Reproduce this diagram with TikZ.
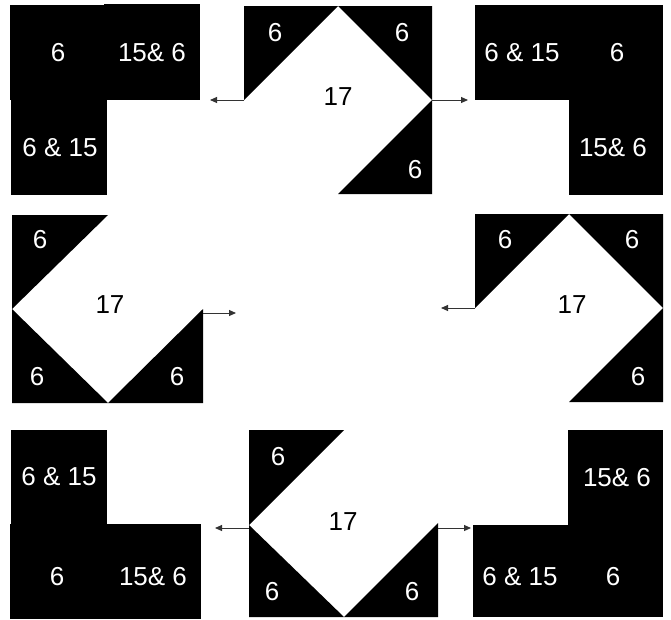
\documentclass[tikz,border=0pt]{standalone}
\usepackage{fontspec}
\setmainfont{Liberation Sans}
\usetikzlibrary{arrows.meta}
\tikzset{
  blk/.style={fill=black,draw=none},
  lblw/.style={text=white,font=\fontsize{26}{30}\selectfont,inner sep=0pt},
  lblb/.style={text=black,font=\fontsize{26}{30}\selectfont,inner sep=0pt},
  arr/.style={draw=black!80,line width=1pt,-{Triangle[length=7pt,width=6pt]}}
}
\begin{document}
\begin{tikzpicture}[x=1pt,y=-1pt]
\useasboundingbox[fill=white] (0,0) rectangle (671,619);
% ---------- top-left L
\fill[blk] (10,5) rectangle (105,100);
\fill[blk] (104,4) rectangle (200,100);
\fill[blk] (11,99) rectangle (107,195);
\node[lblw] (tl1) at (58,53) {6};
\node[lblw] (tl2) at (152,53) {15\& 6};
\node[lblw] (tl3) at (60,148) {6 \& 15};
% ---------- top-center
\fill[blk] (244,6) -- (338,6) -- (244,100) -- cycle;
\fill[blk] (338,6) -- (432,6) -- (432,100) -- cycle;
\fill[blk] (432,100) -- (432,194) -- (338,194) -- cycle;
\node[lblw] (tc1) at (275,33) {6};
\node[lblw] (tc2) at (402,33) {6};
\node[lblb] (tc3) at (338,97) {17};
\node[lblw] (tc4) at (415,170) {6};
\coordinate (tcL) at (244,100);
\coordinate (tcLe) at (210,100);
\coordinate (tcR) at (432,100);
\coordinate (tcRe) at (468,100);
\draw[arr] (tcL) -- (tcLe);
\draw[arr] (tcR) -- (tcRe);
% ---------- top-right L
\fill[blk] (475,5) rectangle (663,100);
\fill[blk] (569,99) rectangle (663,195);
\node[lblw] (tr1) at (522,53) {6 \& 15};
\node[lblw] (tr2) at (617,53) {6};
\node[lblw] (tr3) at (613,148) {15\& 6};
% ---------- middle-left
\fill[blk] (12,215) -- (108,215) -- (12,309) -- cycle;
\fill[blk] (12,309) -- (12,403) -- (108,403) -- cycle;
\fill[blk] (108,403) -- (203,403) -- (203,309) -- cycle;
\node[lblw] (ml1) at (40,240) {6};
\node[lblb] (ml2) at (110,305) {17};
\node[lblw] (ml3) at (37,377) {6};
\node[lblw] (ml4) at (177,377) {6};
\coordinate (mlR) at (203,313);
\coordinate (mlRe) at (236,313);
\draw[arr] (mlR) -- (mlRe);
% ---------- middle-right
\fill[blk] (475,214) -- (569,214) -- (475,308) -- cycle;
\fill[blk] (569,214) -- (663,214) -- (663,308) -- cycle;
\fill[blk] (663,308) -- (663,402) -- (569,402) -- cycle;
\node[lblw] (mr1) at (505,240) {6};
\node[lblw] (mr2) at (632,240) {6};
\node[lblb] (mr3) at (572,305) {17};
\node[lblw] (mr4) at (638,377) {6};
\coordinate (mrL) at (475,308);
\coordinate (mrLe) at (441,308);
\draw[arr] (mrL) -- (mrLe);
% ---------- bottom-left L
\fill[blk] (11,430) rectangle (107,525);
\fill[blk] (10,524) rectangle (201,619);
\node[lblw] (bl1) at (59,477) {6 \& 15};
\node[lblw] (bl2) at (57,577) {6};
\node[lblw] (bl3) at (153,577) {15\& 6};
% ---------- bottom-center
\fill[blk] (249,430) -- (344,430) -- (249,525) -- cycle;
\fill[blk] (249,525) -- (249,617) -- (344,617) -- cycle;
\fill[blk] (344,617) -- (438,617) -- (438,523) -- cycle;
\node[lblw] (bc1) at (278,457) {6};
\node[lblb] (bc2) at (343,522) {17};
\node[lblw] (bc3) at (272,592) {6};
\node[lblw] (bc4) at (412,592) {6};
\coordinate (bcL) at (249,528);
\coordinate (bcLe) at (215,528);
\coordinate (bcR) at (438,528);
\coordinate (bcRe) at (471,528);
\draw[arr] (bcL) -- (bcLe);
\draw[arr] (bcR) -- (bcRe);
% ---------- bottom-right L
\fill[blk] (568,430) rectangle (663,526);
\fill[blk] (473,525) rectangle (663,617);
\node[lblw] (br1) at (617,478) {15\& 6};
\node[lblw] (br2) at (520,577) {6 \& 15};
\node[lblw] (br3) at (613,577) {6};
\end{tikzpicture}
\end{document}
